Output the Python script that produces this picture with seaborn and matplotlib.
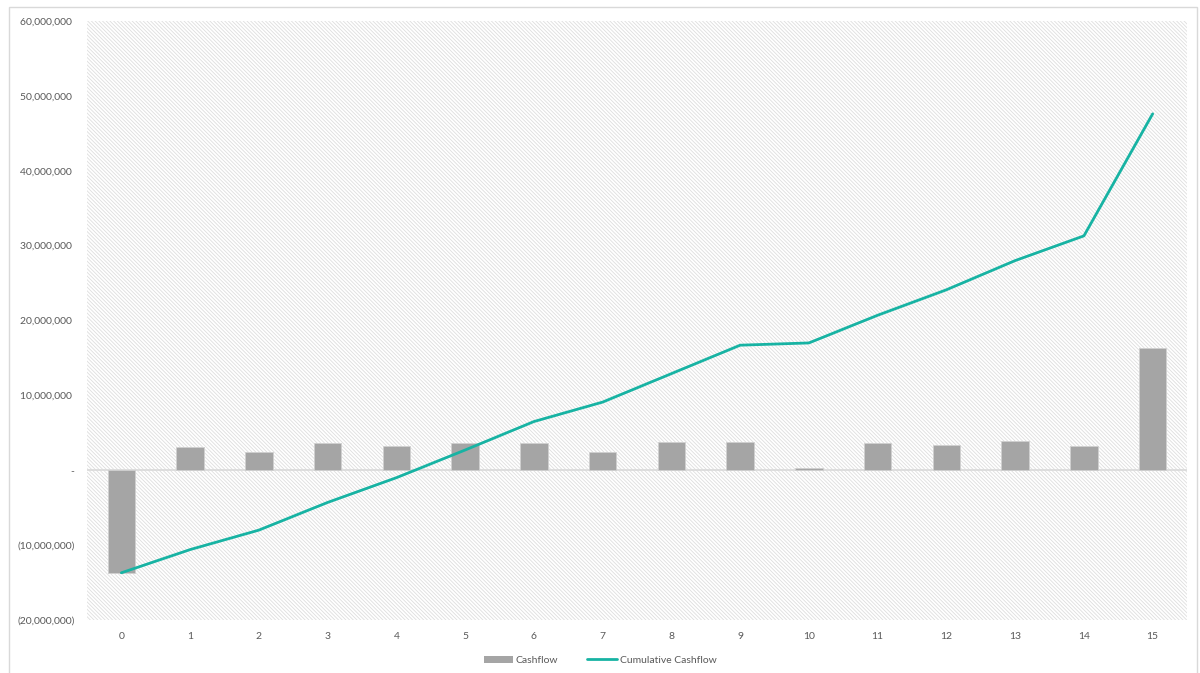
import matplotlib
matplotlib.use("Agg")
import matplotlib.pyplot as plt
import seaborn as sns
import pandas as pd
import numpy as np
from matplotlib.patches import Patch, Rectangle
from matplotlib.lines import Line2D
from matplotlib.ticker import FuncFormatter, MultipleLocator

years = list(range(16))
cashflow = [-13.7e6, 3.1e6, 2.5e6, 3.6e6, 3.2e6, 3.7e6, 3.7e6, 2.5e6,
            3.8e6, 3.8e6, 0.25e6, 3.7e6, 3.4e6, 3.9e6, 3.3e6, 16.3e6]
cumulative = [-13.7e6, -10.6e6, -8.0e6, -4.3e6, -1.0e6, 2.7e6, 6.5e6, 9.1e6,
              12.9e6, 16.7e6, 17.0e6, 20.7e6, 24.1e6, 28.0e6, 31.3e6, 47.6e6]

sns.set_theme(style="white")
plt.rcParams['font.family'] = ['Lato', 'DejaVu Sans']
plt.rcParams['hatch.linewidth'] = 0.6
plt.rcParams['hatch.color'] = '#dedede'

df = pd.DataFrame({"Year": [str(y) for y in years], "Cashflow": cashflow})

fig = plt.figure(figsize=(12, 6.73), dpi=100)
ax = fig.add_axes([0.0725, 0.0788, 0.9167, 0.89])

# plot area hatched background
ax.patch.set_facecolor('white')
bg = Rectangle((0, 0), 1, 1, transform=ax.transAxes, facecolor='white',
               edgecolor='#dedede', hatch='\\' * 9, linewidth=0, zorder=0)
ax.add_patch(bg)

sns.barplot(data=df, x="Year", y="Cashflow", color='#a5a5a5', saturation=1,
            width=0.4, edgecolor='#d0d0d0', linewidth=0.6, ax=ax, zorder=3)
ax.axhline(0, color='#d9d9d9', linewidth=1.2, zorder=2)
sns.lineplot(x=years, y=cumulative, color='#17b3a3', linewidth=2.0, ax=ax, zorder=4)

ax.set_xlim(-0.5, 15.5)
ax.set_ylim(-20e6, 60e6)
ax.yaxis.set_major_locator(MultipleLocator(10e6))

def fmt(v, pos):
    if abs(v) < 1:
        return '-'
    if v < 0:
        return '({:,.0f})'.format(-v)
    return '{:,.0f} '.format(v)

ax.yaxis.set_major_formatter(FuncFormatter(fmt))
ax.set_xlabel('')
ax.set_ylabel('')
for s in ax.spines.values():
    s.set_visible(False)
ax.tick_params(axis='both', length=0, labelsize=7.5, labelcolor='#595959')
ax.tick_params(axis='y', pad=9)
ax.tick_params(axis='x', pad=9)
ax.grid(False)

handles = [Patch(facecolor='#a5a5a5', edgecolor='none', label='Cashflow'),
           Line2D([0], [0], color='#17b3a3', linewidth=2.0, label='Cumulative Cashflow')]
fig.legend(handles=handles, loc='center', bbox_to_anchor=(0.5, 0.019), ncol=2,
           frameon=False, fontsize=7.5, labelcolor='#595959', handlelength=2.8,
           handleheight=0.7, columnspacing=2.8, handletextpad=0.3)

# outer chart border
fig.patches.append(Rectangle((9 / 1200, -0.01), 1188 / 1200, 1 - 7 / 673 + 0.01,
                             transform=fig.transFigure, fill=False,
                             edgecolor='#d9d9d9', linewidth=1.0))

fig.savefig('out.png', dpi=100)
